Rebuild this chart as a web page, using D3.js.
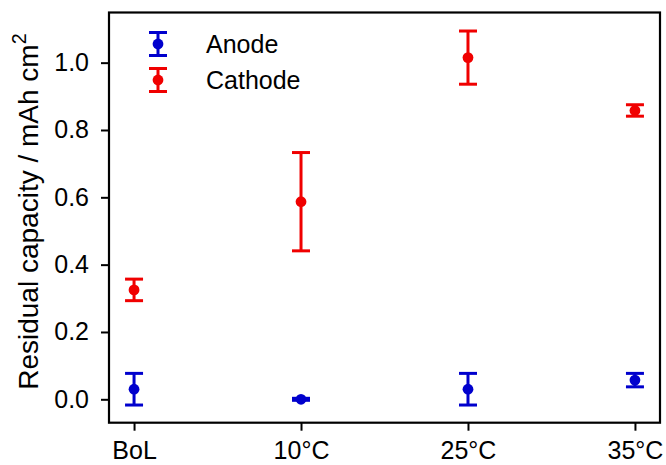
<!DOCTYPE html>
<html>
<head>
<meta charset="utf-8">
<script src="https://cdn.jsdelivr.net/npm/d3@7"></script>
<style>
  html, body { margin: 0; padding: 0; background: #fff; }
  svg { display: block; font-family: "Liberation Sans", Arial, sans-serif; }
</style>
</head>
<body>
<svg id="chart" width="666" height="465"></svg>
<script>
const categories = ["BoL", "10°C", "25°C", "35°C"];
const anodeMean = [0.030, 0.000, 0.030, 0.057];
const anodeErr = [0.047, 0.003, 0.047, 0.020];
const cathodeMean = [0.325, 0.587, 1.015, 0.858];
const cathodeErr = [0.032, 0.146, 0.079, 0.017];
const yTicks = [0.0, 0.2, 0.4, 0.6, 0.8, 1.0];
const seriesNames = ["Anode", "Cathode"];
const seriesColors = ["#0000cd", "#f00000"];

(function () {
const svg = d3.select("#chart");
const pL = 109, pR = 660, pT = 12.5, pB = 422.7;

const x = d3.scalePoint().domain(categories).range([pL, pR]).padding(0.15);
const y = d3.scaleLinear().domain([-0.0695, 1.149]).range([pB, pT]);

const fontSize = 25;
const labelSize = 28;

// Y axis
const yAxis = svg.append("g").attr("transform", `translate(${pL},0)`)
  .call(d3.axisLeft(y).tickValues(yTicks).tickFormat(d3.format(".1f")).tickSize(8).tickPadding(12));
yAxis.select(".domain").remove();
yAxis.selectAll("line").attr("stroke", "#000").attr("stroke-width", 2);
yAxis.selectAll("text").attr("font-size", fontSize).attr("fill", "#000").attr("font-family", "Liberation Sans, Arial, sans-serif");

// X axis
const xAxis = svg.append("g").attr("transform", `translate(0,${pB})`)
  .call(d3.axisBottom(x).tickSize(8).tickPadding(11));
xAxis.select(".domain").remove();
xAxis.selectAll("line").attr("stroke", "#000").attr("stroke-width", 2);
xAxis.selectAll("text").attr("font-size", fontSize).attr("fill", "#000").attr("font-family", "Liberation Sans, Arial, sans-serif");

// Frame
svg.append("rect").attr("x", pL).attr("y", pT).attr("width", pR - pL).attr("height", pB - pT)
  .attr("fill", "none").attr("stroke", "#000").attr("stroke-width", 2.2);

// Y label
const ylab = svg.append("text")
  .attr("transform", `translate(38,${(pT + pB) / 2 - 6}) rotate(-90)`)
  .attr("text-anchor", "middle")
  .attr("font-size", labelSize).attr("fill", "#000");
ylab.append("tspan").text("Residual capacity / mAh cm");
ylab.append("tspan").attr("font-size", labelSize * 0.7).attr("dy", "-0.6em").text("2");

// Error bars
const capHalf = 9;
const lw = 3;
const mr = 5.4;
function drawSeries(means, errs, color) {
  const g = svg.append("g");
  means.forEach((m, i) => {
    const cx = x(categories[i]);
    g.append("line").attr("x1", cx).attr("x2", cx).attr("y1", y(m - errs[i])).attr("y2", y(m + errs[i]))
      .attr("stroke", color).attr("stroke-width", lw);
    [m - errs[i], m + errs[i]].forEach(v => {
      g.append("line").attr("x1", cx - capHalf).attr("x2", cx + capHalf).attr("y1", y(v)).attr("y2", y(v))
        .attr("stroke", color).attr("stroke-width", lw);
    });
    g.append("circle").attr("cx", cx).attr("cy", y(m)).attr("r", mr).attr("fill", color);
  });
}
drawSeries(anodeMean, anodeErr, seriesColors[0]);
drawSeries(cathodeMean, cathodeErr, seriesColors[1]);

// Legend
const legendY = [44, 80];
seriesNames.forEach((name, i) => {
  const lx = 158, ly = legendY[i], c = seriesColors[i];
  const g = svg.append("g");
  g.append("line").attr("x1", lx).attr("x2", lx).attr("y1", ly - 11.5).attr("y2", ly + 11.5).attr("stroke", c).attr("stroke-width", lw);
  [ly - 11.5, ly + 11.5].forEach(v => g.append("line").attr("x1", lx - capHalf).attr("x2", lx + capHalf).attr("y1", v).attr("y2", v).attr("stroke", c).attr("stroke-width", lw));
  g.append("circle").attr("cx", lx).attr("cy", ly).attr("r", mr).attr("fill", c);
  g.append("text").attr("x", 206).attr("y", ly).attr("dy", "0.36em").attr("font-size", fontSize).attr("fill", "#000").text(name);
});
})();
</script>
</body>
</html>
